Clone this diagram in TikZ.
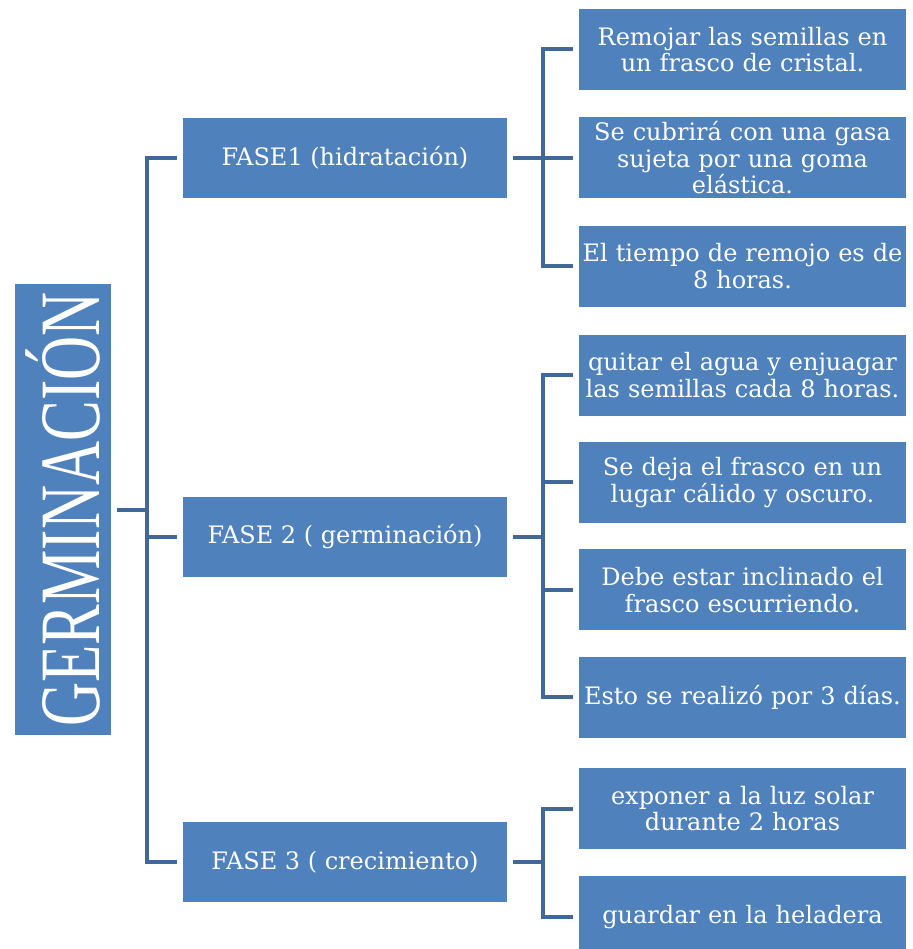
\documentclass[tikz,border=0pt]{standalone}
\usepackage{fontspec}
\setmainfont{DejaVu Serif}
\newfontfamily\titular[FakeStretch=0.71]{Liberation Serif}
\usetikzlibrary{positioning}
\definecolor{cajaazul}{RGB}{79,129,189}
\definecolor{lineaazul}{RGB}{64,104,152}
\tikzset{
    titulo/.style={rectangle, fill=cajaazul, text=white, minimum width=96pt, minimum height=451pt, inner sep=0pt, font=\titular\fontsize{86}{86}\selectfont},
    fase/.style={rectangle, fill=cajaazul, text=white, minimum width=324pt, minimum height=80pt, text centered, font=\fontsize{24}{26.5}\selectfont},
    paso/.style={rectangle, fill=cajaazul, text=white, text width=324pt, inner xsep=1.5pt, inner ysep=0pt, minimum height=81pt, align=center, font=\fontsize{24}{26.5}\selectfont},
    rama/.style={draw=lineaazul, line width=4pt}
}

\begin{document}
\begin{tikzpicture}[x=1pt, y=-1pt, node distance=27pt and 27pt]
    \useasboundingbox (0,0) rectangle (912,949);
    % Nodes
    \node (germ) [titulo] at (63,509.5) {\rotatebox{90}{GERMINACIÓN}};
    \node (fase1) [fase] at (345,158) {FASE1 (hidratación)};
    \node (fase2) [fase] at (345,537) {FASE 2 ( germinación)};
    \node (fase3) [fase] at (345,862) {FASE 3 ( crecimiento)};
    \node (p11) [paso] at (742.5,49.5) {Remojar las semillas en\\un frasco de cristal.};
    \node (p12) [paso, below=of p11] {Se cubrirá con una gasa\\sujeta por una goma\\elástica.};
    \node (p13) [paso, below=of p12] {El tiempo de remojo es de\\8 horas.};
    \node (p21) [paso] at (742.5,375) {quitar el agua y enjuagar\\las semillas cada 8 horas.};
    \node (p22) [paso, below=26pt of p21] {Se deja el frasco en un\\lugar cálido y oscuro.};
    \node (p23) [paso, below=26pt of p22] {Debe estar inclinado el\\frasco escurriendo.};
    \node (p24) [paso, below=26pt of p23] {Esto se realizó por 3 días.};
    \node (p31) [paso] at (742.5,808.5) {exponer a la luz solar\\durante 2 horas};
    \node (p32) [paso, below=of p31] {guardar en la heladera};
    % Brackets
    \coordinate (b0) at (147,509.5);
    \coordinate (b1) at (543,158);
    \coordinate (b2) at (543,537);
    \coordinate (b3) at (543,862);
    \draw [rama] ([xshift=6pt]germ.east) -- (b0);
    \draw [rama] ([xshift=-6pt]fase1.west) -| (b0) |- ([xshift=-6pt]fase3.west);
    \draw [rama] (b0 |- fase2) -- ([xshift=-6pt]fase2.west);
    \draw [rama] ([xshift=6pt]fase1.east) -- (b1);
    \draw [rama] ([xshift=-6pt]p11.west) -| (b1) |- ([xshift=-6pt]p13.west);
    \draw [rama] (b1 |- p12) -- ([xshift=-6pt]p12.west);
    \draw [rama] ([xshift=6pt]fase2.east) -- (b2);
    \draw [rama] ([xshift=-6pt]p21.west) -| (b2) |- ([xshift=-6pt]p24.west);
    \draw [rama] (b2 |- p22) -- ([xshift=-6pt]p22.west);
    \draw [rama] (b2 |- p23) -- ([xshift=-6pt]p23.west);
    \draw [rama] ([xshift=6pt]fase3.east) -- (b3);
    \draw [rama] ([xshift=-6pt]p31.west) -| (b3) |- ([xshift=-6pt]p32.west);
\end{tikzpicture}
\end{document}
